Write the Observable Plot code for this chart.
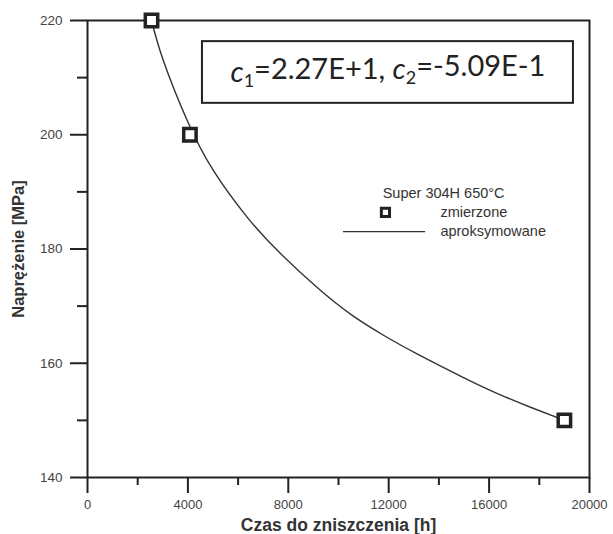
<!DOCTYPE html>
<html>
<head>
<meta charset="utf-8">
<script src="https://cdn.jsdelivr.net/npm/d3@7"></script>
<script src="https://cdn.jsdelivr.net/npm/@observablehq/plot@0.6"></script>
<style>
  html, body { margin: 0; padding: 0; background: #ffffff; }
</style>
</head>
<body>
<div id="chart"></div>
<script>
// measured points (zmierzone)
const measTime = [2550, 4080, 19000];
const measStress = [220, 200, 150];

// approximated curve (aproksymowane)
const fitTime = [2550, 3028, 3972, 5020, 6375, 7689, 9163, 10478, 11793, 13147, 14980, 16335, 17649, 19000];
const fitStress = [220, 212.9, 202.5, 193.7, 185.5, 179.2, 173.2, 168.6, 164.9, 161.6, 157.5, 154.7, 152.3, 150];

// ticks
const xMajorTicks = [0, 4000, 8000, 12000, 16000, 20000];
const xMinorTicks = [2000, 6000, 10000, 14000, 18000];
const yMajorTicks = [140, 160, 180, 200, 220];
const yMinorTicks = [150, 170, 190, 210];

// texts
const xTitle = "Czas do zniszczenia [h]";
const yTitle = "Naprężenie [MPa]";
const legendTitle = "Super 304H 650°C";
const legendLabels = ["zmierzone", "aproksymowane"];
const coeffNames = ["c", "c"];
const coeffIdx = ["1", "2"];
const coeffVals = ["2.27E+1", "-5.09E-1"];

// annotation placement (data coordinates)
const box = {x1: 4580, x2: 19360, y1: 205.5, y2: 216.3};
const eqPos = {x: 11970, y: 210.9};
const legendPos = {
  titleX: 11760, titleY: 189.7,
  markX: 11870, markY: 186.4,
  lineX1: 10200, lineX2: 13470, lineY: 183.05,
  labelX: 14060
};

const meas = measTime.map((t, i) => ({t, s: measStress[i]}));
const fit = fitTime.map((t, i) => ({t, s: fitStress[i]}));

const ink = "#222";
const font = "'Liberation Sans', Arial, sans-serif";

const svg = Plot.plot({
  width: 613,
  height: 534,
  marginLeft: 87,
  marginRight: 24,
  marginTop: 20,
  marginBottom: 57,
  style: {fontFamily: font, background: "#ffffff", color: "#333", overflow: "visible"},
  x: {domain: [0, 20000]},
  y: {domain: [140, 220]},
  marks: [
    Plot.rect([box], {x1: "x1", x2: "x2", y1: "y1", y2: "y2", fill: "white", stroke: ink, strokeWidth: 2}),
    Plot.text([eqPos], {x: "x", y: "y", text: () => "eq", className: "eq", fontSize: 29, fontFamily: "Lato, 'Open Sans', sans-serif", fill: "#222"}),
    Plot.line(fit, {x: "t", y: "s", stroke: "#333", strokeWidth: 1.4, curve: "natural"}),
    Plot.frame({stroke: ink, strokeWidth: 2}),
    Plot.axisY({ticks: yMajorTicks, tickSize: 17, tickPadding: 8, strokeWidth: 2, stroke: ink, fontSize: 13.5, fill: "#444", label: null, tickFormat: d => String(d)}),
    Plot.axisY({ticks: yMinorTicks, tickSize: 10, strokeWidth: 2, stroke: ink, text: null, label: null}),
    Plot.axisX({ticks: xMajorTicks, tickSize: 16, tickPadding: 6, strokeWidth: 2, stroke: ink, fontSize: 13, fill: "#444", label: null, tickFormat: d => String(d)}),
    Plot.axisX({ticks: xMinorTicks, tickSize: 8, strokeWidth: 2, stroke: ink, text: null, label: null}),
    Plot.dot(meas, {x: "t", y: "s", symbol: "square", r: 7, stroke: ink, strokeWidth: 3.5, fill: "white"}),
    // legend
    Plot.text([legendTitle], {x: legendPos.titleX, y: legendPos.titleY, text: d => d, textAnchor: "start", fontSize: 14.5, fill: "#333"}),
    Plot.dot([0], {x: legendPos.markX, y: legendPos.markY, symbol: "square", r: 4.6, stroke: ink, strokeWidth: 3, fill: "white"}),
    Plot.text([legendLabels[0]], {x: legendPos.labelX, y: legendPos.markY, text: d => d, textAnchor: "start", fontSize: 14.5, fill: "#333"}),
    Plot.ruleY([legendPos.lineY], {x1: legendPos.lineX1, x2: legendPos.lineX2, stroke: "#333", strokeWidth: 1.4}),
    Plot.text([legendLabels[1]], {x: legendPos.labelX, y: legendPos.lineY, text: d => d, textAnchor: "start", fontSize: 14.5, fill: "#333"}),
    // axis titles
    Plot.text([xTitle], {frameAnchor: "bottom", dy: 48, lineAnchor: "middle", textAnchor: "middle", text: d => d, fontSize: 17.5, fontWeight: "bold", fill: "#333"}),
    Plot.text([yTitle], {frameAnchor: "left", dx: -69, rotate: -90, lineAnchor: "middle", textAnchor: "middle", text: d => d, fontSize: 16.5, fontWeight: "bold", fill: "#333"})
  ]
});

// build the equation with italic names and subscripts
const eq = d3.select(svg).select("g.eq text");
eq.text(null);
coeffNames.forEach((n, i) => {
  if (i > 0) eq.append("tspan").text(", ");
  eq.append("tspan").attr("font-style", "italic").text(n);
  eq.append("tspan").attr("font-size", "0.62em").attr("dy", "0.28em").text(coeffIdx[i]);
  eq.append("tspan").attr("dy", "-0.28em").text("=" + coeffVals[i]);
});

document.getElementById("chart").appendChild(svg);
</script>
</body>
</html>
